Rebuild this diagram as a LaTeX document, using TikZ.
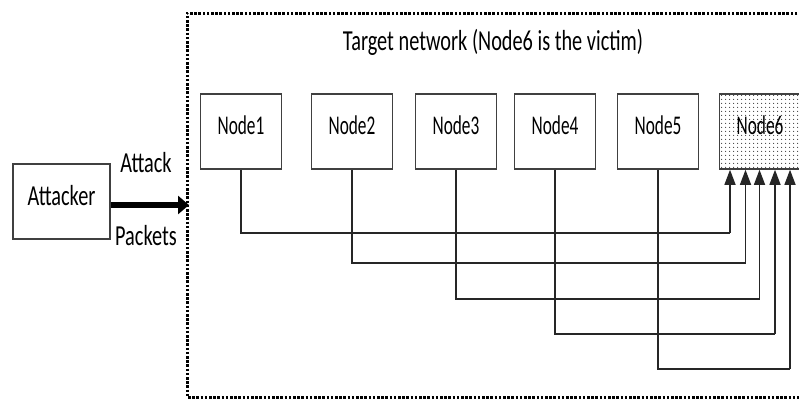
\documentclass[tikz,border=0pt]{standalone}
\usepackage{fontspec}
\setmainfont{Carlito}
\usepackage{graphicx}
\usetikzlibrary{arrows.meta,patterns.meta}
\newcommand{\sqz}[1]{\scalebox{0.70}[1]{#1}}
\newcommand{\sqn}[1]{\scalebox{0.64}[1]{#1}}
\tikzdeclarepattern{name=mydots,type=uncolored,bounding box={(0pt,0pt) and (4pt,4pt)},
  tile size={(4pt,4pt)},code={\fill (2pt,2pt) circle (0.75pt);}}
\tikzset{
  nodebox/.style={draw=black!75,line width=1.5pt,fill=white,minimum width=81pt,minimum height=75pt,
    inner sep=0pt,text height=18pt,text depth=12pt,font=\fontsize{27}{29}\selectfont},
  lbl/.style={inner sep=0pt,anchor=base,font=\fontsize{29}{31}\selectfont},
  conn/.style={draw=black!85,line width=1.3pt},
  connarrow/.style={conn,-{Triangle[length=15pt,width=11pt]}},
  framestyle/.style={draw=black,line width=3pt,dash pattern=on 2.6pt off 1.6pt},
}
\begin{document}
\begin{tikzpicture}[x=1pt,y=-1pt]
\useasboundingbox (0,0) rectangle (799,400);
\clip (0,0) rectangle (799,400);
\fill[white] (0,0) rectangle (799,400);
% dotted frame
\draw[framestyle] (810,13) -- (187,13) -- (187,397) -- (810,397);
\node[lbl] (title) at (493,50) {\sqz{Target network (Node6 is the victim)}};
% nodes
\node[nodebox] (n1) at (241,131.5) {\sqn{Node1}};
\node[nodebox] (n2) at (352,131.5) {\sqn{Node2}};
\node[nodebox] (n3) at (456,131.5) {\sqn{Node3}};
\node[nodebox] (n4) at (555,131.5) {\sqn{Node4}};
\node[nodebox] (n5) at (658,131.5) {\sqn{Node5}};
\node[nodebox,pattern=mydots,pattern color=black!75] (n6) at (760,131.5) {\sqn{Node6}};
% attacker
\node[nodebox,minimum width=97pt,text height=20pt,font=\fontsize{29}{31}\selectfont] (att) at (61.5,201.5) {\sqz{Attacker}};
\coordinate (tip) at (189,205);
\draw[line width=5.5pt,-{Triangle[length=11pt,width=18pt]}] (att.east |- tip) -- (tip);
\node[lbl] (lattack) at (146,172) {\sqz{Attack}};
\node[lbl] (lpackets) at (146,245) {\sqz{Packets}};
% connectors
\coordinate (c1) at (730,233);
\coordinate (c2) at (745.5,263);
\coordinate (c3) at (759.5,299);
\coordinate (c4) at (775,334);
\coordinate (c5) at (790,369);
\draw[conn] (n1.south) |- (c1);
\draw[conn] (n2.south) |- (c2);
\draw[conn] (n3.south) |- (c3);
\draw[conn] (n4.south) |- (c4);
\draw[conn] (n5.south) |- (c5);
\draw[connarrow] (c1) -- (c1 |- n6.south);
\draw[connarrow] (c2) -- (c2 |- n6.south);
\draw[connarrow] (c3) -- (c3 |- n6.south);
\draw[connarrow] (c4) -- (c4 |- n6.south);
\draw[connarrow] (c5) -- (c5 |- n6.south);
\end{tikzpicture}
\end{document}
